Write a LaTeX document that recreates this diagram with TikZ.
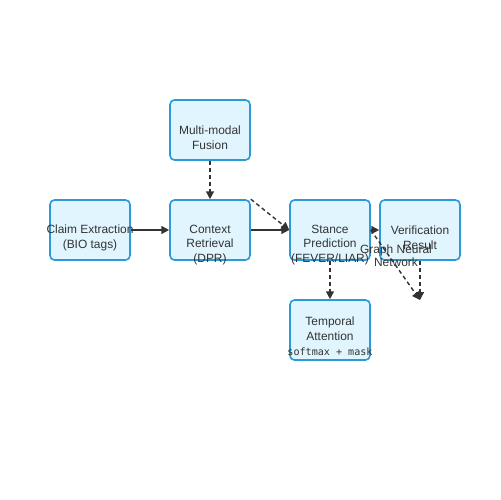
\documentclass[tikz,border=0pt]{standalone}
\usepackage{fontspec}
\setmainfont{Liberation Sans}
\setmonofont{DejaVu Sans Mono}
\usetikzlibrary{calc, arrows.meta}
\definecolor{boxfill}{HTML}{E1F5FE}
\definecolor{boxline}{HTML}{2B9AD8}
\definecolor{ink}{HTML}{333333}

\begin{document}
\begin{tikzpicture}[x=0.02cm, y=-0.02cm,
		box/.style={draw=boxline, fill=boxfill, line width=0.9pt, rounded corners=2.5pt,
			minimum width=1.6cm, minimum height=1.2cm, inner sep=0pt},
		txt/.style={text=ink, font=\fontsize{6.8}{8.5}\selectfont, align=center, inner sep=0pt},
		link/.style={draw=ink, line width=0.8pt, -{Triangle[length=4.5pt,width=4.5pt]}},
		dlink/.style={link, dash pattern=on 2.3pt off 1.7pt}]
			\useasboundingbox (0,0) rectangle (500,500);

			% boxes
			\node[box] (claim) at (90,230) {};
			\node[box] (context) at (210,230) {};
			\node[box] (fusion) at (210,130) {};
			\node[box] (stance) at (330,230) {};
			\node[box] (verification) at (420,230) {};
			\node[box] (temporal) at (330,330) {};
			\coordinate (gnn end) at (420,300);

			% connectors
			\begin{scope}
				\draw[link] (claim) -- (context);
				\draw[dlink] (fusion) -- (context);
				\draw[link] (context) -- (stance);
				\draw[dlink] (context.north east) -- (stance.west);
				\draw[link] (stance) -- (verification);
				\draw[dlink] (stance) -- (temporal);
				\draw[dlink] (verification) -- (gnn end);
				\draw[dlink] (stance.east) -- (gnn end);
			\end{scope}

			% texts
			\node[txt] (claim text) at ($ (claim) + (0,7.5) $) {Claim Extraction\\(BIO tags)};
			\node[txt] (context text) at ($ (context) + (0,15) $) {Context\\Retrieval\\(DPR)};
			\node[txt] (fusion text) at ($ (fusion) + (0,7.5) $) {Multi-modal\\Fusion};
			\node[txt] (stance text) at ($ (stance) + (0,15) $) {Stance\\Prediction\\(FEVER/LIAR)};
			\node[txt] (verification text) at ($ (verification) + (0,7.5) $) {Verification\\Result};
			\node[txt] (temporal text) at ($ (temporal) + (0,6) $)
				{Temporal\\Attention\\{\ttfamily\fontsize{5.75}{8.5}\selectfont softmax + mask}};
			\node[txt, font=\fontsize{6.8}{6.3}\selectfont] (gnn text) at (396,256) {Graph Neural\\Network};
		\end{tikzpicture}
\end{document}
